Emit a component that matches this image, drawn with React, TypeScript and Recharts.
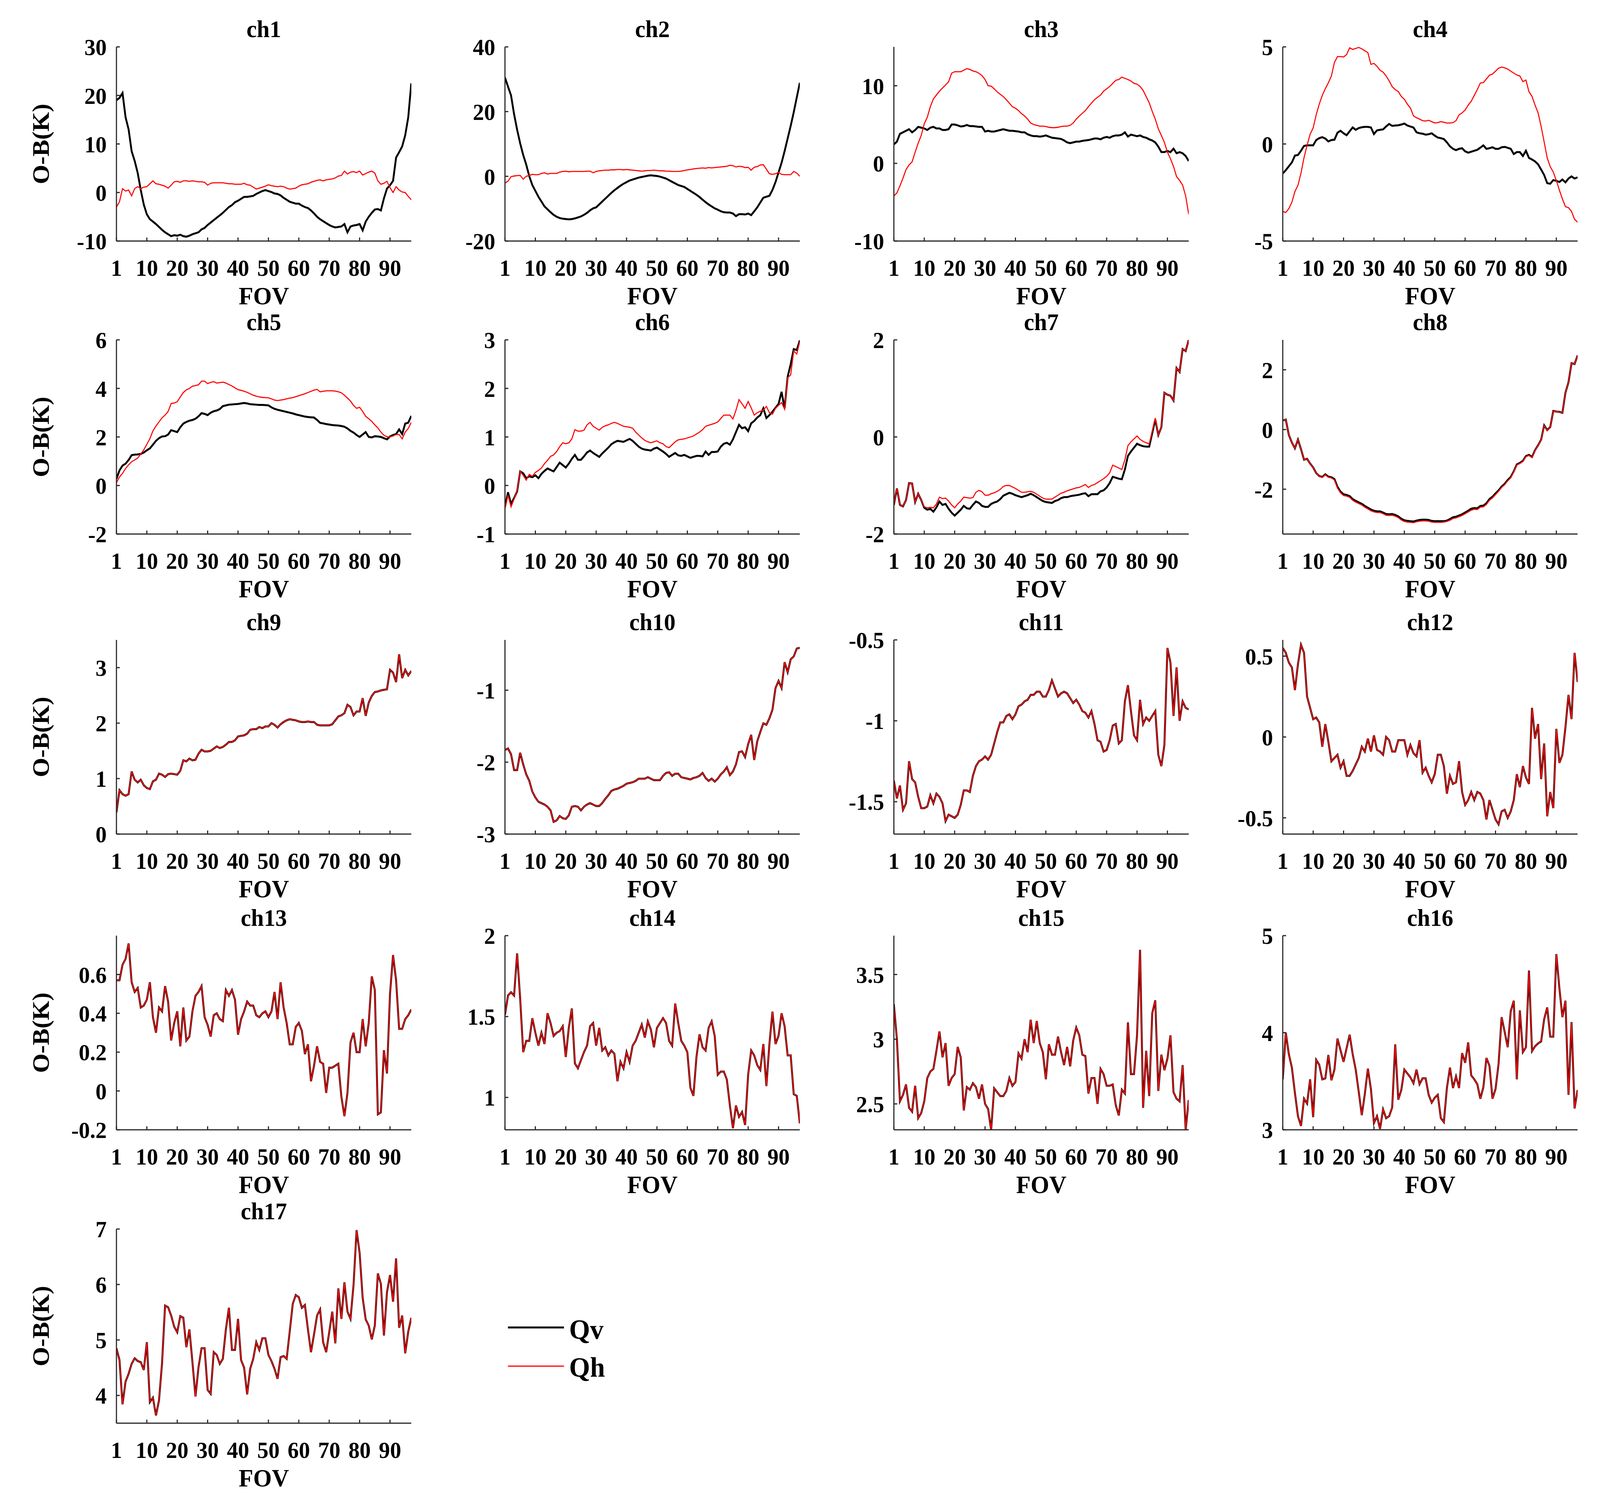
import React from 'react';
import { LineChart, Line, XAxis, YAxis, Legend } from 'recharts';

const FONT = "'Liberation Serif', 'Times New Roman', serif";
const AXIS_COLOR = '#262626';

// FOV index 1..98 (x categories)
const FOV = Array.from({ length: 98 }, (_, i) => i + 1);
const xTicks = [1, 11, 21, 31, 41, 51, 61, 71, 81, 91];
const xTickLabels = ['1', '10', '20', '30', '40', '50', '60', '70', '80', '90'];

const ch1Qv = [19.0, 19.5, 20.5, 15.5, 13.0, 8.5, 6.5, 4.0, 0.5, -2.5,
  -4.5, -5.5, -6.0, -6.5, -7.1, -7.7, -8.2, -8.6, -9.0, -8.8,
  -8.9, -8.7, -9.0, -9.1, -8.9, -8.6, -8.4, -8.2, -7.6, -7.3,
  -6.7, -6.2, -5.7, -5.2, -4.7, -4.2, -3.6, -3.0, -2.6, -2.0,
  -1.7, -1.3, -0.9, -0.9, -0.8, -0.7, -0.3, 0.0, 0.3, 0.5,
  0.3, 0.1, -0.2, -0.3, -0.6, -1.1, -1.5, -1.9, -2.1, -2.3,
  -2.3, -2.7, -3.0, -3.2, -3.7, -4.3, -5.0, -5.5, -5.9, -6.3,
  -6.7, -7.0, -7.2, -7.1, -7.0, -6.5, -8.2, -7.0, -6.8, -6.7,
  -6.5, -7.8, -6.0, -5.0, -4.2, -3.5, -3.4, -3.7, -1.2, 0.8,
  1.5, 2.4, 7.2, 8.3, 9.5, 11.8, 15.5, 22.5];
const ch1Qh = [-3.0, -1.9, 0.8, 0.3, 0.5, -0.7, 0.8, 1.2, 0.8, 1.1,
  1.2, 1.8, 2.4, 1.8, 1.7, 1.5, 1.3, 0.9, 1.5, 2.2,
  2.3, 2.1, 2.4, 2.4, 2.3, 2.4, 2.3, 2.2, 2.2, 2.1,
  1.5, 1.9, 2.0, 2.0, 2.0, 2.0, 1.9, 1.8, 1.8, 1.7,
  1.7, 1.7, 1.9, 1.6, 1.5, 1.1, 0.7, 0.9, 1.1, 1.3,
  1.6, 1.4, 1.3, 1.2, 1.3, 1.2, 0.9, 0.7, 0.8, 0.9,
  1.3, 1.6, 1.7, 1.8, 2.1, 2.3, 2.5, 2.6, 2.4, 2.6,
  2.7, 2.8, 3.0, 3.4, 3.5, 4.4, 3.8, 4.2, 4.3, 4.1,
  4.4, 3.6, 3.9, 4.2, 4.4, 4.0, 2.4, 1.7, 1.9, 2.3,
  1.0, 0.0, 1.2, 0.5, 0.1, 0.0, -0.8, -1.5];

const ch2Qv = [30.5, 27.7, 25.0, 19.2, 14.4, 10.2, 6.6, 3.6, 0.0, -2.7,
  -4.5, -6.3, -7.8, -9.3, -10.2, -11.1, -11.9, -12.5, -12.9, -13.1,
  -13.2, -13.3, -13.2, -13.0, -12.7, -12.4, -11.9, -11.3, -10.5, -9.9,
  -9.6, -8.7, -7.8, -6.9, -6.0, -5.1, -4.3, -3.6, -2.9, -2.3,
  -1.8, -1.3, -1.0, -0.7, -0.4, -0.2, 0.0, 0.2, 0.3, 0.2,
  0.1, -0.1, -0.4, -0.7, -1.2, -1.7, -2.2, -2.7, -3.0, -3.3,
  -3.9, -4.5, -5.1, -5.7, -6.4, -7.2, -8.0, -8.7, -9.3, -9.9,
  -10.3, -10.8, -11.1, -11.2, -11.2, -11.5, -12.3, -11.7, -11.7, -11.8,
  -11.5, -12.0, -10.8, -9.6, -8.1, -6.6, -6.3, -6.0, -4.2, -1.8,
  1.2, 4.2, 7.8, 11.7, 15.6, 19.8, 24.4, 28.9];
const ch2Qh = [-2.1, -1.5, -0.1, 0.1, 0.2, 0.3, -0.9, 0.0, 0.3, 0.6,
  0.5, 0.5, 0.9, 1.1, 0.7, 0.9, 0.9, 0.9, 1.3, 1.5,
  1.6, 1.4, 1.5, 1.5, 1.5, 1.5, 1.5, 1.6, 1.6, 1.1,
  1.5, 1.7, 1.8, 1.9, 1.9, 2.0, 2.0, 2.1, 2.1, 2.0,
  2.1, 2.0, 1.9, 1.8, 1.7, 1.6, 1.7, 1.8, 1.8, 1.9,
  1.8, 1.7, 1.7, 1.6, 1.6, 1.5, 1.5, 1.5, 1.6, 1.8,
  2.0, 2.1, 2.3, 2.4, 2.5, 2.6, 2.5, 2.7, 2.6, 2.7,
  2.8, 2.9, 3.0, 3.1, 3.4, 3.3, 2.9, 3.1, 3.0, 2.7,
  2.8, 1.9, 2.8, 3.0, 3.5, 3.6, 2.2, 0.8, 0.6, 0.8,
  1.2, 0.6, 0.5, 0.5, 0.5, 1.5, 1.0, 0.0];

const ch3Qv = [2.45, 2.8, 3.8, 4.0, 4.2, 4.4, 4.0, 4.3, 4.7, 4.6,
  4.5, 4.3, 4.6, 4.7, 4.5, 4.5, 4.3, 4.3, 4.4, 5.0,
  5.0, 4.9, 4.75, 4.8, 4.95, 4.8, 4.8, 4.75, 4.7, 4.7,
  4.1, 4.2, 4.1, 4.1, 4.2, 4.3, 4.4, 4.3, 4.2, 4.2,
  4.15, 4.1, 4.0, 4.0, 3.75, 3.6, 3.5, 3.5, 3.45, 3.5,
  3.6, 3.45, 3.3, 3.25, 3.2, 3.15, 2.95, 2.7, 2.6, 2.7,
  2.8, 2.8, 2.9, 2.95, 3.0, 3.1, 3.2, 3.2, 3.1, 3.3,
  3.4, 3.3, 3.5, 3.6, 3.6, 3.7, 4.0, 3.45, 3.7, 3.6,
  3.5, 3.6, 3.4, 3.3, 3.1, 2.95, 2.7, 2.15, 1.45, 1.45,
  1.6, 1.45, 1.9, 1.3, 1.45, 1.3, 0.95, 0.3];
const ch3Qh = [-4.2, -3.8, -2.9, -1.9, -0.8, -0.2, 0.2, 1.45, 2.6, 3.6,
  5.1, 5.95, 7.3, 8.3, 8.8, 9.3, 9.7, 10.1, 10.5, 11.6,
  11.8, 11.8, 11.8, 12.0, 12.2, 12.1, 11.9, 11.8, 11.6, 11.3,
  10.8, 10.0, 9.95, 9.6, 9.2, 8.9, 8.6, 8.2, 7.75, 7.3,
  7.1, 6.8, 6.4, 6.1, 5.7, 5.2, 5.0, 4.9, 4.8, 4.8,
  4.75, 4.65, 4.6, 4.6, 4.65, 4.75, 4.8, 4.8, 4.9, 5.2,
  5.7, 6.1, 6.45, 6.8, 7.3, 7.75, 8.2, 8.5, 8.8, 9.3,
  9.6, 9.9, 10.3, 10.7, 10.8, 11.1, 10.95, 10.8, 10.6, 10.3,
  10.2, 9.9, 9.4, 8.6, 7.8, 6.7, 5.7, 4.45, 3.6, 2.7,
  1.45, 0.6, -0.4, -1.7, -2.2, -2.8, -4.2, -6.55];

const ch4Qv = [-1.52, -1.35, -1.15, -0.95, -0.6, -0.57, -0.35, -0.1, -0.07, -0.07,
  -0.07, 0.2, 0.3, 0.35, 0.28, 0.13, 0.2, 0.22, 0.58, 0.68,
  0.55, 0.45, 0.65, 0.85, 0.73, 0.82, 0.86, 0.88, 0.88, 0.85,
  0.51, 0.7, 0.73, 0.75, 0.9, 1.03, 0.93, 0.95, 0.96, 1.0,
  1.05, 0.95, 0.9, 0.85, 0.6, 0.55, 0.53, 0.48, 0.5, 0.55,
  0.43, 0.33, 0.3, 0.25, 0.08, -0.12, -0.25, -0.32, -0.25, -0.22,
  -0.38, -0.45, -0.4, -0.35, -0.3, -0.19, -0.07, -0.25, -0.22, -0.17,
  -0.25, -0.25, -0.17, -0.15, -0.2, -0.25, -0.52, -0.42, -0.42, -0.62,
  -0.35, -0.72, -0.8, -0.9, -1.05, -1.32, -1.6, -2.02, -2.05, -1.86,
  -1.9, -1.96, -1.83, -1.98, -1.78, -1.67, -1.78, -1.72];
const ch4Qh = [-3.48, -3.53, -3.33, -3.0, -2.45, -2.13, -1.5, -0.7, -0.07, 0.5,
  0.83, 1.5, 2.05, 2.5, 2.85, 3.15, 3.5, 4.2, 4.5, 4.5,
  4.48, 4.6, 4.95, 4.87, 4.92, 4.97, 4.9, 4.8, 4.7, 4.1,
  4.15, 4.0, 3.8, 3.7, 3.5, 3.25, 2.95, 2.8, 2.7, 2.45,
  2.3, 2.05, 1.85, 1.45, 1.35, 1.28, 1.2, 1.18, 1.22, 1.15,
  1.08, 1.1, 1.15, 1.12, 1.08, 1.08, 1.1, 1.2, 1.5, 1.6,
  1.75, 2.0, 2.2, 2.5, 2.8, 3.14, 3.16, 3.35, 3.54, 3.6,
  3.75, 3.9, 3.96, 3.92, 3.86, 3.75, 3.65, 3.55, 3.5, 3.21,
  3.29, 2.69, 2.45, 2.0, 1.6, 0.9, 0.1, -0.72, -1.17, -1.45,
  -1.88, -2.38, -2.83, -3.23, -3.28, -3.48, -3.88, -4.03];

const ch5Qv = [0.27, 0.62, 0.82, 0.9, 1.05, 1.25, 1.27, 1.28, 1.3, 1.36,
  1.45, 1.53, 1.68, 1.84, 1.95, 2.02, 2.03, 2.1, 2.28, 2.24,
  2.2, 2.4, 2.55, 2.62, 2.67, 2.7, 2.75, 2.85, 2.98, 2.95,
  2.9, 3.0, 3.06, 3.09, 3.15, 3.27, 3.3, 3.33, 3.34, 3.35,
  3.36, 3.38, 3.4, 3.38, 3.35, 3.34, 3.33, 3.32, 3.32, 3.31,
  3.3, 3.22, 3.16, 3.12, 3.09, 3.06, 3.03, 3.0, 2.97, 2.93,
  2.9, 2.87, 2.84, 2.82, 2.81, 2.8, 2.7, 2.58, 2.56, 2.53,
  2.51, 2.49, 2.48, 2.47, 2.45, 2.42, 2.35, 2.25, 2.18, 2.08,
  2.0, 2.1, 2.2, 2.0, 1.98, 2.03, 2.02, 2.0, 1.95, 1.9,
  2.02, 2.08, 2.12, 2.31, 2.12, 2.55, 2.59, 2.87];
const ch5Qh = [0.11, 0.35, 0.5, 0.7, 0.85, 0.98, 1.05, 1.13, 1.3, 1.47,
  1.7, 1.93, 2.25, 2.45, 2.62, 2.79, 2.9, 3.05, 3.38, 3.4,
  3.45, 3.65, 3.83, 3.94, 4.0, 4.09, 4.12, 4.15, 4.3, 4.3,
  4.2, 4.25, 4.28, 4.22, 4.24, 4.26, 4.22, 4.16, 4.1, 4.02,
  3.95, 3.92, 3.88, 3.84, 3.78, 3.72, 3.68, 3.65, 3.63, 3.62,
  3.61, 3.57, 3.52, 3.5, 3.52, 3.54, 3.57, 3.6, 3.62, 3.66,
  3.7, 3.74, 3.78, 3.83, 3.88, 3.93, 3.96, 3.86, 3.88, 3.9,
  3.9, 3.9, 3.89, 3.86, 3.82, 3.72, 3.6, 3.48, 3.3, 3.18,
  3.22, 3.05, 2.85, 2.75, 2.64, 2.5, 2.37, 2.2, 2.07, 2.01,
  2.0, 2.04, 2.1, 2.1, 1.92, 2.2, 2.35, 2.6];

const ch6Qv = [-0.44, -0.14, -0.38, -0.26, -0.12, 0.29, 0.25, 0.15, 0.19, 0.17,
  0.21, 0.15, 0.24, 0.3, 0.35, 0.32, 0.29, 0.38, 0.47, 0.42,
  0.37, 0.45, 0.55, 0.63, 0.53, 0.53, 0.6, 0.68, 0.72, 0.67,
  0.63, 0.59, 0.66, 0.72, 0.78, 0.85, 0.89, 0.92, 0.91, 0.9,
  0.93, 0.96, 0.92, 0.86, 0.8, 0.76, 0.74, 0.73, 0.72, 0.76,
  0.78, 0.74, 0.7, 0.65, 0.59, 0.63, 0.67, 0.62, 0.61, 0.63,
  0.6, 0.57, 0.59, 0.61, 0.61, 0.6, 0.7, 0.63, 0.69, 0.69,
  0.7, 0.8, 0.86, 0.88, 0.84, 0.95, 1.1, 1.25, 1.18, 1.2,
  1.12, 1.28, 1.33, 1.4, 1.45, 1.59, 1.39, 1.45, 1.52, 1.6,
  1.68, 1.93, 1.59, 2.24, 2.5, 2.81, 2.79, 2.99];
const ch6Qh = [-0.48, -0.2, -0.44, -0.28, -0.1, 0.29, 0.21, 0.11, 0.23, 0.19,
  0.27, 0.31, 0.36, 0.45, 0.52, 0.6, 0.63, 0.7, 0.8, 0.88,
  0.86, 0.88, 0.96, 1.15, 1.12, 1.12, 1.14, 1.25, 1.3, 1.22,
  1.18, 1.14, 1.2, 1.23, 1.25, 1.28, 1.3, 1.28, 1.25, 1.22,
  1.21, 1.2, 1.18, 1.1, 1.04, 0.98, 0.93, 0.9, 0.88, 0.9,
  0.92, 0.88, 0.86, 0.8, 0.78, 0.84, 0.9, 0.94, 0.95, 0.96,
  0.98, 1.0, 1.02, 1.06, 1.1, 1.15, 1.22, 1.24, 1.26, 1.28,
  1.31, 1.38, 1.45, 1.45, 1.45, 1.37, 1.55, 1.77, 1.68, 1.59,
  1.73, 1.6, 1.45, 1.5, 1.53, 1.55, 1.63, 1.5, 1.47, 1.59,
  1.65, 1.71, 1.57, 2.22, 2.28, 2.77, 2.71, 2.97];

const ch7Qv = [-1.4, -1.06, -1.4, -1.43, -1.3, -0.95, -0.96, -1.34, -1.17, -1.3,
  -1.46, -1.5, -1.48, -1.54, -1.45, -1.33, -1.4, -1.38, -1.48, -1.56,
  -1.62, -1.56, -1.5, -1.42, -1.47, -1.48, -1.4, -1.33, -1.36, -1.42,
  -1.44, -1.44, -1.38, -1.35, -1.33, -1.28, -1.21, -1.18, -1.15, -1.17,
  -1.2, -1.22, -1.24, -1.22, -1.2, -1.17, -1.2, -1.24, -1.28, -1.32,
  -1.34, -1.35, -1.36, -1.32, -1.3, -1.26, -1.24, -1.24, -1.22, -1.21,
  -1.2, -1.19, -1.17, -1.16, -1.22, -1.18, -1.18, -1.18, -1.12, -1.1,
  -1.04, -0.95, -0.82, -0.84, -0.86, -0.87, -0.67, -0.39, -0.3, -0.22,
  -0.14, -0.17, -0.19, -0.2, -0.2, 0.08, 0.36, 0.04, 0.2, 0.91,
  0.87, 0.85, 0.75, 1.42, 1.34, 1.81, 1.77, 2.0];
const ch7Qh = [-1.4, -1.06, -1.4, -1.43, -1.3, -0.95, -0.96, -1.34, -1.17, -1.3,
  -1.44, -1.46, -1.45, -1.46, -1.38, -1.24, -1.27, -1.26, -1.32, -1.4,
  -1.46, -1.38, -1.32, -1.24, -1.25, -1.26, -1.25, -1.14, -1.1, -1.13,
  -1.2, -1.2, -1.17, -1.15, -1.12, -1.08, -1.02, -1.0, -1.0, -1.03,
  -1.06, -1.1, -1.14, -1.14, -1.13, -1.12, -1.14, -1.18, -1.22, -1.26,
  -1.28, -1.28, -1.28, -1.24, -1.2, -1.16, -1.14, -1.11, -1.09, -1.07,
  -1.05, -1.04, -1.01, -0.98, -1.04, -1.0, -0.98, -0.94, -0.9, -0.86,
  -0.81, -0.74, -0.58, -0.61, -0.64, -0.67, -0.47, -0.18, -0.1, -0.04,
  0.02, -0.05, -0.09, -0.12, -0.14, 0.12, 0.39, 0.04, 0.2, 0.91,
  0.87, 0.85, 0.75, 1.42, 1.34, 1.81, 1.77, 2.0];

const ch8Qv = [0.3, 0.33, -0.18, -0.44, -0.63, -0.34, -0.66, -1.01, -0.98, -1.14,
  -1.27, -1.46, -1.56, -1.59, -1.5, -1.58, -1.6, -1.66, -1.92, -2.08,
  -2.17, -2.19, -2.23, -2.33, -2.39, -2.44, -2.49, -2.56, -2.62, -2.68,
  -2.72, -2.74, -2.74, -2.78, -2.83, -2.84, -2.83, -2.86, -2.91, -2.99,
  -3.04, -3.06, -3.07, -3.08, -3.05, -3.03, -3.02, -3.02, -3.03, -3.06,
  -3.07, -3.07, -3.07, -3.07, -3.05, -3.0, -2.94, -2.92, -2.88, -2.84,
  -2.78, -2.72, -2.65, -2.63, -2.64, -2.56, -2.55, -2.47, -2.33, -2.25,
  -2.14, -2.04, -1.91, -1.82, -1.69, -1.59, -1.4, -1.17, -1.12, -1.05,
  -0.89, -0.85, -0.92, -0.69, -0.53, -0.34, 0.14, -0.02, 0.08, 0.62,
  0.6, 0.59, 0.56, 1.23, 1.58, 2.22, 2.19, 2.48];
const ch8Qh = [0.3, 0.33, -0.18, -0.44, -0.63, -0.34, -0.66, -1.01, -0.98, -1.14,
  -1.27, -1.46, -1.57, -1.6, -1.52, -1.6, -1.62, -1.69, -1.96, -2.12,
  -2.21, -2.23, -2.27, -2.37, -2.43, -2.48, -2.53, -2.6, -2.66, -2.72,
  -2.76, -2.78, -2.78, -2.82, -2.87, -2.88, -2.87, -2.9, -2.95, -3.03,
  -3.08, -3.1, -3.11, -3.12, -3.09, -3.07, -3.06, -3.06, -3.07, -3.1,
  -3.11, -3.11, -3.11, -3.1, -3.08, -3.04, -2.98, -2.96, -2.92, -2.88,
  -2.82, -2.76, -2.7, -2.67, -2.68, -2.6, -2.59, -2.51, -2.37, -2.29,
  -2.18, -2.07, -1.94, -1.85, -1.72, -1.62, -1.42, -1.19, -1.14, -1.07,
  -0.91, -0.87, -0.94, -0.7, -0.54, -0.35, 0.13, -0.03, 0.07, 0.61,
  0.6, 0.59, 0.56, 1.23, 1.58, 2.22, 2.19, 2.48];

// ch9-ch17: Qv and Qh overlap in the figure
const ch9Qv = [0.39, 0.79, 0.72, 0.69, 0.72, 1.13, 0.98, 0.93, 0.98, 0.88,
  0.83, 0.81, 0.95, 0.98, 1.09, 1.07, 1.03, 1.08, 1.09, 1.08,
  1.07, 1.14, 1.33, 1.31, 1.36, 1.33, 1.34, 1.45, 1.52, 1.49,
  1.49, 1.5, 1.54, 1.58, 1.55, 1.57, 1.61, 1.66, 1.66, 1.69,
  1.76, 1.77, 1.78, 1.81, 1.88, 1.89, 1.89, 1.93, 1.91, 1.94,
  1.94, 2.0, 1.97, 1.92, 1.98, 2.02, 2.05, 2.07, 2.06, 2.05,
  2.03, 2.02, 2.02, 2.03, 2.02, 2.02, 1.97, 1.96, 1.96, 1.96,
  1.96, 1.98, 2.05, 2.12, 2.14, 2.18, 2.33, 2.29, 2.14, 2.21,
  2.21, 2.45, 2.13, 2.37, 2.49, 2.56, 2.57, 2.59, 2.6, 2.61,
  2.96, 2.91, 2.74, 3.24, 2.81, 2.96, 2.86, 2.94];
const ch10Qv = [-1.83, -1.81, -1.89, -2.11, -2.11, -1.87, -2.03, -2.17, -2.26, -2.41,
  -2.49, -2.55, -2.57, -2.59, -2.62, -2.67, -2.83, -2.81, -2.75, -2.78,
  -2.79, -2.74, -2.62, -2.61, -2.62, -2.67, -2.62, -2.59, -2.57, -2.59,
  -2.61, -2.61, -2.57, -2.51, -2.46, -2.4, -2.38, -2.37, -2.35, -2.33,
  -2.3, -2.29, -2.28, -2.26, -2.23, -2.23, -2.23, -2.21, -2.23, -2.25,
  -2.25, -2.25, -2.19, -2.15, -2.14, -2.19, -2.16, -2.16, -2.21, -2.22,
  -2.23, -2.24, -2.22, -2.21, -2.19, -2.15, -2.22, -2.26, -2.23, -2.27,
  -2.23, -2.17, -2.13, -2.07, -2.18, -2.13, -2.03, -1.86, -1.85, -1.93,
  -1.75, -1.62, -1.97, -1.71, -1.58, -1.46, -1.48, -1.39, -1.27, -0.97,
  -0.87, -0.97, -0.61, -0.75, -0.57, -0.53, -0.42, -0.41];
const ch11Qv = [-1.37, -1.48, -1.4, -1.55, -1.51, -1.25, -1.36, -1.38, -1.47, -1.54,
  -1.54, -1.53, -1.46, -1.51, -1.45, -1.47, -1.51, -1.62, -1.58, -1.59,
  -1.6, -1.58, -1.52, -1.43, -1.43, -1.44, -1.34, -1.28, -1.25, -1.24,
  -1.22, -1.24, -1.21, -1.14, -1.07, -1.01, -1.01, -0.97, -0.96, -0.99,
  -0.96, -0.91, -0.9, -0.88, -0.87, -0.84, -0.84, -0.82, -0.82, -0.85,
  -0.85, -0.81, -0.75, -0.8, -0.85, -0.83, -0.82, -0.83, -0.86, -0.89,
  -0.87, -0.9, -0.94, -0.95, -0.98, -0.94, -1.02, -1.12, -1.13, -1.19,
  -1.18, -1.12, -1.03, -1.02, -1.14, -1.12, -0.88, -0.78, -0.94, -1.09,
  -1.12, -0.87, -1.02, -0.98, -1.0, -0.97, -0.94, -1.21, -1.28, -1.15,
  -0.55, -0.64, -0.97, -0.67, -1.0, -0.88, -0.92, -0.93];
const ch12Qv = [0.55, 0.52, 0.46, 0.43, 0.29, 0.45, 0.57, 0.52, 0.25, 0.18,
  0.11, 0.12, 0.09, -0.06, 0.08, -0.03, -0.15, -0.13, -0.11, -0.19,
  -0.15, -0.24, -0.24, -0.21, -0.17, -0.13, -0.06, -0.09, -0.01, -0.09,
  0.01, -0.08, -0.09, -0.11, 0.0, -0.02, -0.09, -0.09, -0.02, -0.02,
  -0.02, -0.11, -0.05, -0.1, -0.12, -0.02, -0.22, -0.19, -0.24, -0.28,
  -0.23, -0.11, -0.11, -0.18, -0.35, -0.24, -0.29, -0.28, -0.15, -0.34,
  -0.42, -0.39, -0.34, -0.39, -0.34, -0.35, -0.39, -0.51, -0.39, -0.45,
  -0.51, -0.54, -0.46, -0.45, -0.5, -0.46, -0.39, -0.23, -0.31, -0.18,
  -0.25, -0.29, 0.18, -0.01, 0.08, -0.26, -0.04, -0.49, -0.34, -0.44,
  0.05, -0.16, -0.11, 0.06, 0.26, 0.11, 0.52, 0.34];
const ch13Qv = [0.57, 0.57, 0.65, 0.68, 0.76, 0.56, 0.51, 0.53, 0.43, 0.44,
  0.47, 0.56, 0.38, 0.3, 0.43, 0.41, 0.54, 0.46, 0.26, 0.35,
  0.41, 0.23, 0.43, 0.26, 0.28, 0.41, 0.49, 0.51, 0.54, 0.38,
  0.34, 0.28, 0.39, 0.4, 0.37, 0.36, 0.52, 0.49, 0.52, 0.47,
  0.29, 0.37, 0.41, 0.46, 0.44, 0.44, 0.39, 0.38, 0.4, 0.41,
  0.38, 0.41, 0.51, 0.37, 0.56, 0.43, 0.35, 0.24, 0.24, 0.33,
  0.35, 0.31, 0.19, 0.24, 0.05, 0.13, 0.23, 0.15, 0.14, -0.01,
  0.12, 0.12, 0.13, 0.14, -0.03, -0.13, -0.01, 0.25, 0.3, 0.2,
  0.2, 0.37, 0.23, 0.35, 0.59, 0.52, -0.12, -0.11, 0.21, 0.09,
  0.5, 0.7, 0.57, 0.32, 0.32, 0.37, 0.39, 0.42];
const ch14Qv = [1.51, 1.63, 1.65, 1.63, 1.89, 1.61, 1.28, 1.35, 1.35, 1.49,
  1.4, 1.32, 1.4, 1.33, 1.52, 1.46, 1.38, 1.4, 1.41, 1.44,
  1.25, 1.43, 1.55, 1.21, 1.18, 1.23, 1.28, 1.32, 1.44, 1.46,
  1.32, 1.43, 1.29, 1.31, 1.26, 1.29, 1.27, 1.1, 1.22, 1.18,
  1.28, 1.22, 1.32, 1.35, 1.4, 1.45, 1.37, 1.47, 1.42, 1.31,
  1.43, 1.46, 1.49, 1.46, 1.35, 1.32, 1.58, 1.46, 1.35, 1.32,
  1.28, 1.06, 1.01, 1.25, 1.39, 1.31, 1.29, 1.43, 1.47, 1.38,
  1.14, 1.16, 1.16, 1.11, 0.95, 0.81, 0.95, 0.88, 0.91, 0.83,
  1.14, 1.29, 1.26, 1.2, 1.17, 1.33, 1.07, 1.33, 1.53, 1.33,
  1.38, 1.52, 1.44, 1.26, 1.26, 1.02, 1.01, 0.84];
const ch15Qv = [3.27, 3.0, 2.52, 2.57, 2.65, 2.47, 2.44, 2.64, 2.39, 2.43,
  2.52, 2.7, 2.75, 2.77, 2.91, 3.06, 2.86, 2.97, 2.64, 2.7,
  2.73, 2.94, 2.86, 2.45, 2.63, 2.61, 2.66, 2.63, 2.54, 2.65,
  2.5, 2.46, 2.3, 2.62, 2.59, 2.56, 2.56, 2.6, 2.7, 2.64,
  2.67, 2.89, 2.85, 3.0, 2.9, 3.15, 2.97, 3.14, 2.97, 2.9,
  2.69, 2.96, 2.88, 2.88, 3.02, 2.9, 2.8, 2.94, 2.79, 2.99,
  3.09, 3.03, 2.88, 2.87, 2.58, 2.7, 2.7, 2.5, 2.77, 2.73,
  2.64, 2.64, 2.65, 2.49, 2.41, 2.61, 2.58, 3.13, 2.73, 2.73,
  3.03, 3.69, 2.47, 2.91, 2.56, 3.2, 3.3, 2.6, 2.88, 2.76,
  2.85, 3.03, 2.59, 2.54, 2.52, 2.8, 2.3, 2.53];
const ch16Qv = [3.52, 4.0, 3.78, 3.64, 3.38, 3.14, 3.04, 3.32, 3.27, 3.52,
  3.13, 3.72, 3.67, 3.52, 3.53, 3.77, 3.51, 3.62, 3.94, 3.82,
  3.7, 3.84, 3.98, 3.78, 3.62, 3.39, 3.15, 3.37, 3.63, 3.42,
  3.07, 3.14, 3.01, 3.21, 3.12, 3.14, 3.23, 3.88, 3.31, 3.41,
  3.62, 3.58, 3.54, 3.48, 3.62, 3.47, 3.53, 3.53, 3.36, 3.28,
  3.33, 3.36, 3.12, 3.08, 3.43, 3.64, 3.43, 3.55, 3.43, 3.79,
  3.69, 3.9, 3.56, 3.52, 3.47, 3.32, 3.44, 3.74, 3.66, 3.32,
  3.42, 3.68, 4.16, 4.01, 3.85, 4.22, 4.33, 3.52, 4.23, 3.8,
  3.85, 4.64, 3.81, 3.86, 3.89, 3.91, 4.14, 4.26, 3.96, 3.96,
  4.81, 4.46, 4.16, 4.33, 3.36, 4.11, 3.22, 3.41];
const ch17Qv = [4.85, 4.64, 3.84, 4.25, 4.39, 4.57, 4.67, 4.62, 4.6, 4.46,
  4.96, 3.88, 3.96, 3.64, 3.91, 4.58, 5.62, 5.59, 5.44, 5.24,
  5.14, 5.43, 5.4, 4.87, 5.19, 4.6, 3.98, 4.51, 4.85, 4.85,
  4.1, 4.03, 4.78, 4.73, 4.57, 4.66, 5.19, 5.58, 4.82, 4.82,
  5.38, 4.64, 4.5, 4.02, 4.48, 4.66, 4.96, 4.82, 5.03, 5.03,
  4.73, 4.62, 4.48, 4.3, 4.69, 4.71, 4.66, 5.15, 5.65, 5.81,
  5.77, 5.58, 5.63, 5.19, 4.78, 5.1, 5.44, 5.55, 4.96, 4.78,
  5.14, 5.51, 4.94, 5.93, 5.38, 6.04, 5.51, 5.38, 5.99, 6.98,
  6.57, 5.76, 5.37, 5.26, 5.01, 5.26, 6.2, 6.01, 5.08, 5.86,
  6.17, 5.69, 6.47, 5.22, 5.44, 4.76, 5.15, 5.4];

const channels = [
  { title: 'ch1', qv: ch1Qv, qh: ch1Qh, domain: [-10, 30], ticks: [-10, 0, 10, 20, 30] },
  { title: 'ch2', qv: ch2Qv, qh: ch2Qh, domain: [-20, 40], ticks: [-20, 0, 20, 40] },
  { title: 'ch3', qv: ch3Qv, qh: ch3Qh, domain: [-10, 15], ticks: [-10, 0, 10] },
  { title: 'ch4', qv: ch4Qv, qh: ch4Qh, domain: [-5, 5], ticks: [-5, 0, 5] },
  { title: 'ch5', qv: ch5Qv, qh: ch5Qh, domain: [-2, 6], ticks: [-2, 0, 2, 4, 6] },
  { title: 'ch6', qv: ch6Qv, qh: ch6Qh, domain: [-1, 3], ticks: [-1, 0, 1, 2, 3] },
  { title: 'ch7', qv: ch7Qv, qh: ch7Qh, domain: [-2, 2], ticks: [-2, 0, 2] },
  { title: 'ch8', qv: ch8Qv, qh: ch8Qh, domain: [-3.5, 3], ticks: [-2, 0, 2] },
  { title: 'ch9', qv: ch9Qv, qh: ch9Qv, domain: [0, 3.5], ticks: [0, 1, 2, 3] },
  { title: 'ch10', qv: ch10Qv, qh: ch10Qv, domain: [-3, -0.3], ticks: [-3, -2, -1] },
  { title: 'ch11', qv: ch11Qv, qh: ch11Qv, domain: [-1.7, -0.5], ticks: [-1.5, -1, -0.5] },
  { title: 'ch12', qv: ch12Qv, qh: ch12Qv, domain: [-0.6, 0.6], ticks: [-0.5, 0, 0.5] },
  { title: 'ch13', qv: ch13Qv, qh: ch13Qv, domain: [-0.2, 0.8], ticks: [-0.2, 0, 0.2, 0.4, 0.6] },
  { title: 'ch14', qv: ch14Qv, qh: ch14Qv, domain: [0.8, 2], ticks: [1, 1.5, 2] },
  { title: 'ch15', qv: ch15Qv, qh: ch15Qv, domain: [2.3, 3.8], ticks: [2.5, 3, 3.5] },
  { title: 'ch16', qv: ch16Qv, qh: ch16Qv, domain: [3, 5], ticks: [3, 4, 5] },
  { title: 'ch17', qv: ch17Qv, qh: ch17Qv, domain: [3.5, 7], ticks: [4, 5, 6, 7] },
];

// layout in reference pixels (4287 x 3855)
const REF_W = 4287;
const REF_H = 3855;
const COL_LEFT = [312, 1353, 2395, 3437];
const ROW_TOP = [120, 870, 1638, 2395, 3146];
const PW = 790;
const PH = 497;
const ML = 240;
const MT = 90;
const MR = 20;
const MB = 190;

const tickStyle = { fill: '#000', fontSize: 60, fontWeight: 700, fontFamily: FONT };
const labelStyle = { fill: '#000', fontSize: 64, fontWeight: 700, fontFamily: FONT };
const axisLine = { stroke: AXIS_COLOR, strokeWidth: 3 };
const tickLine = { stroke: AXIS_COLOR, strokeWidth: 3 };

function renderLegend(props: any) {
  const order = ['Qv', 'Qh'];
  const items = order.map((n) => (props.payload || []).find((p: any) => p.value === n)).filter(Boolean);
  return (
    <svg width={340} height={220} style={{ overflow: 'visible' }}>
      {items.map((e: any, i: number) => (
        <g key={e.value}>
          <line x1={11} x2={161} y1={58 + i * 99} y2={58 + i * 99} stroke={e.color} strokeWidth={i === 0 ? 5 : 3} />
          <text x={175} y={87 + i * 97} fontSize={72} fontWeight={700} fontFamily={FONT} fill="#000">{e.value}</text>
        </g>
      ))}
    </svg>
  );
}

function Panel({ ch, idx }: { ch: any; idx: number }) {
  const col = idx % 4;
  const row = Math.floor(idx / 4);
  const data = FOV.map((f, i) => ({ fov: f, qv: ch.qv[i], qh: ch.qh[i] }));
  const W = ML + PW + MR;
  const H = MT + PH + MB;
  const left = COL_LEFT[col] - ML;
  const top = ROW_TOP[row] - MT;
  const last = idx === 16;
  return (
    <div style={{ position: 'absolute', left, top }}>
      <LineChart width={W} height={H} data={data} margin={{ top: MT, right: MR, bottom: 0, left: 0 }}>
        <XAxis
          dataKey="fov"
          type="number"
          domain={[1, 98]}
          ticks={xTicks}
          interval={0}
          allowDataOverflow
          height={MB}
          tickSize={-9}
          tickMargin={55}
          axisLine={axisLine}
          tickLine={tickLine}
          tick={tickStyle}
          tickFormatter={(v: number) => xTickLabels[xTicks.indexOf(v)]}
          label={{
            content: (p: any) => {
              const vb = p.viewBox;
              const cx = vb.x + vb.width / 2;
              return (
                <g>
                  <text x={cx} y={vb.y + 162} textAnchor="middle" {...labelStyle}>FOV</text>
                  <text x={cx} y={vb.y - PH - 25} textAnchor="middle" {...tickStyle} fontSize={62}>{ch.title}</text>
                </g>
              );
            },
          }}
        />
        <XAxis
          xAxisId="top"
          orientation="top"
          type="number"
          domain={[1, 98]}
          ticks={xTicks}
          interval={0}
          allowDataOverflow
          height={0}
          tickSize={-9}
          axisLine={axisLine}
          tickLine={tickLine}
          tick={false}
        />
        <YAxis
          type="number"
          domain={ch.domain}
          ticks={ch.ticks}
          interval={0}
          allowDataOverflow
          width={ML}
          tickSize={-9}
          tickMargin={35}
          axisLine={axisLine}
          tickLine={tickLine}
          tick={tickStyle}
          label={
            col === 0
              ? {
                  content: (p: any) => {
                    const vb = p.viewBox;
                    const bx = vb.x + vb.width - 181;
                    const cy = vb.y + vb.height / 2;
                    return (
                      <text x={bx} y={cy} textAnchor="middle" transform={`rotate(-90, ${bx}, ${cy})`} {...labelStyle}>
                        O-B(K)
                      </text>
                    );
                  },
                }
              : undefined
          }
        />
        <YAxis
          yAxisId="right"
          orientation="right"
          type="number"
          domain={ch.domain}
          ticks={ch.ticks}
          interval={0}
          allowDataOverflow
          width={0}
          tickSize={-9}
          axisLine={axisLine}
          tickLine={tickLine}
          tick={false}
        />
        <Line type="linear" dataKey="qv" name="Qv" stroke="#000000" strokeWidth={5} dot={false} isAnimationActive={false} />
        <Line type="linear" dataKey="qh" name="Qh" stroke="#ff0000" strokeWidth={2.8} dot={false} isAnimationActive={false} />
        {last && (
          <Legend
            layout="vertical"
            align="center"
            verticalAlign="middle"
            content={renderLegend}
            wrapperStyle={{ left: 1350 - left, top: 3340 - top, width: 340, height: 220 }}
          />
        )}
      </LineChart>
    </div>
  );
}

export default function App() {
  // the captured picture is narrower than the reference; fit the figure's width into it
  const viewW = Math.min(4096, typeof window !== 'undefined' && window.innerWidth ? window.innerWidth : 4096);
  const sx = viewW / REF_W;
  return (
    <div style={{ position: 'absolute', left: 0, top: 0, width: viewW, height: REF_H, overflow: 'hidden', background: '#ffffff' }}>
      <div
        style={{
          position: 'absolute',
          left: 0,
          top: 0,
          width: REF_W,
          height: REF_H,
          background: '#ffffff',
          fontFamily: FONT,
          transform: `scale(${sx}, 1)`,
          transformOrigin: '0 0',
        }}
      >
        {channels.map((ch, i) => (
          <Panel key={ch.title} ch={ch} idx={i} />
        ))}
      </div>
    </div>
  );
}
